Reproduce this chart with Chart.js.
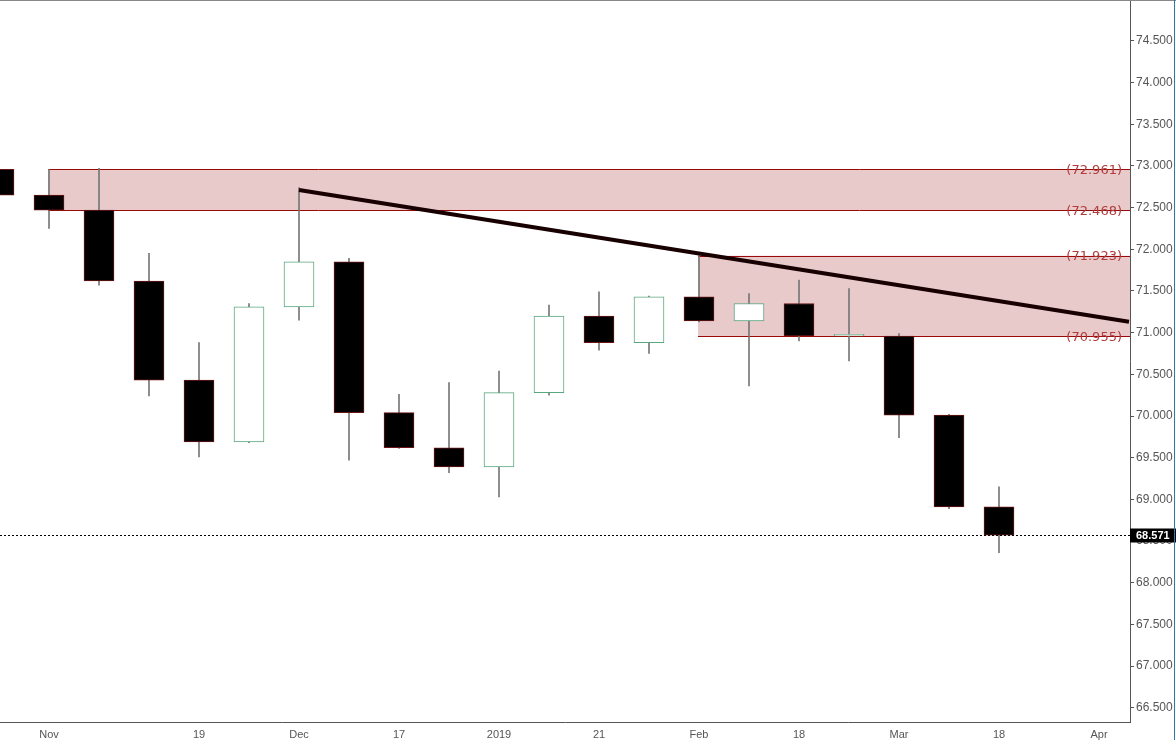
<!DOCTYPE html>
<html><head><meta charset="utf-8">
<script src="https://cdn.jsdelivr.net/npm/chart.js@4"></script>
<style>html,body{margin:0;padding:0;background:#fff}#wrap{width:1176px;height:740px;position:relative}</style>
</head><body><div id="wrap"><canvas id="c" width="1176" height="740"></canvas></div>
<script>
const weeks = [0,1,2,3,4,5,6,7,8,9,10,11,12,13,14,15,16,17,18,19,20];
const opens  = [72.96,72.65,72.47,71.62,70.43,69.69,71.31,71.85,70.04,69.62,69.39,70.28,71.20,70.88,71.43,71.14,71.35,70.96,70.96,70.01,68.91];
const highs  = [72.98,72.96,72.97,71.95,70.88,71.35,72.74,71.89,70.26,70.40,70.54,71.33,71.49,71.44,71.93,71.47,71.63,71.53,70.99,70.02,69.15];
const lows   = [72.64,72.25,71.57,70.24,69.51,69.68,71.15,69.47,69.61,69.32,69.03,70.25,70.79,70.75,71.13,70.36,70.90,70.66,69.74,68.89,68.36];
const closes = [72.65,72.47,71.62,70.43,69.69,71.31,71.85,70.04,69.62,69.39,70.28,71.20,70.88,71.43,71.14,71.35,70.96,70.97,70.01,68.91,68.57];
const tickPos = [1,4,6,8,10,12,14,16,18,20,22];
const tickLabels = ['Nov','19','Dec','17','2019','21','Feb','18','Mar','18','Apr'];
const zones = [{from:0.98,top:72.961,bottom:72.468},{from:13.98,top:71.923,bottom:70.955}];
const trendX = [6,22.6], trendY = [72.71,71.13];
const lastPrice = 68.571;
const XMIN=0.02, XMAX=22.62;

const up = closes.map((c,i)=>c>=opens[i]);
const wickData = weeks.map((w,i)=>({x:w,y:[lows[i],highs[i]]}));
const bodyData = weeks.map((w,i)=>({x:w,y:[Math.min(opens[i],closes[i]),Math.max(opens[i],closes[i])+ (Math.abs(opens[i]-closes[i])<0.02?0.01:0)]}));
const FONT='"Liberation Sans", Arial, sans-serif';

const overlay = {
  id:'overlay',
  beforeDatasetsDraw(ch){
    const {ctx,chartArea:a,scales:{x,y}}=ch;
    ctx.save();
    zones.forEach(z=>{
      const x0=x.getPixelForValue(z.from), y0=y.getPixelForValue(z.top), y1=y.getPixelForValue(z.bottom);
      ctx.fillStyle='#e8cacb'; ctx.fillRect(x0,y0,a.right-x0,y1-y0);
      ctx.strokeStyle='#9b0a0a'; ctx.lineWidth=1;
      [y0,y1].forEach(yy=>{ctx.beginPath();ctx.moveTo(x0,Math.round(yy)+0.5);ctx.lineTo(a.right,Math.round(yy)+0.5);ctx.stroke();});
    });
    ctx.restore();
  },
  afterDatasetsDraw(ch){
    const {ctx,chartArea:a,scales:{x,y}}=ch;
    ctx.save();
    ctx.font='13px "DejaVu Sans", sans-serif'; ctx.fillStyle='#b03c3c'; ctx.textAlign='right'; ctx.textBaseline='middle';
    zones.forEach(z=>{[z.top,z.bottom].forEach(v=>ctx.fillText('('+v.toFixed(3)+')',a.right-8,y.getPixelForValue(v)+1));});
    const py=Math.round(y.getPixelForValue(lastPrice))+0.5;
    ctx.strokeStyle='#000'; ctx.lineWidth=1; ctx.setLineDash([2,2]);
    ctx.beginPath(); ctx.moveTo(a.left,py); ctx.lineTo(a.right,py); ctx.stroke(); ctx.setLineDash([]);
    ctx.fillStyle='#000'; ctx.fillRect(a.right,py-7,46,14);
    ctx.fillStyle='#fff'; ctx.font='bold 11px '+FONT; ctx.textAlign='left';
    ctx.fillText(lastPrice.toFixed(3),a.right+6,py+0.5);
    ctx.strokeStyle='#888'; ctx.beginPath(); ctx.moveTo(0,0.5); ctx.lineTo(1176,0.5); ctx.stroke();
    ctx.strokeStyle='#2a7ab0'; ctx.beginPath(); ctx.moveTo(1174.5,0); ctx.lineTo(1174.5,740); ctx.stroke();
    ctx.restore();
  }
};

new Chart(document.getElementById('c'),{
  type:'bar',
  data:{datasets:[
    {data:wickData,backgroundColor:'#777',borderWidth:0,barThickness:1,grouped:false,order:3},
    {data:bodyData,backgroundColor:up.map(u=>u?'#fff':'#000'),borderColor:up.map(u=>u?'#5aa77f':'#6b1414'),borderWidth:1,borderSkipped:false,barThickness:30,grouped:false,order:2},
    {type:'line',data:trendX.map((v,i)=>({x:v,y:trendY[i]})),borderColor:'#180000',borderWidth:4,pointRadius:0,order:1}
  ]},
  options:{
    responsive:false,animation:false,devicePixelRatio:1,
    layout:{padding:0},
    plugins:{legend:{display:false},tooltip:{enabled:false}},
    scales:{
      x:{type:'linear',offset:false,min:XMIN,max:XMAX,grid:{display:false,offset:false},border:{color:'#555'},
        afterBuildTicks(s){s.ticks=tickPos.map(v=>({value:v}));},
        afterFit(s){s.height=18;},
        ticks:{autoSkip:false,maxRotation:0,color:'#555',font:{size:11,family:FONT,lineHeight:1},padding:-1,callback:(v)=>tickLabels[tickPos.indexOf(v)]}},
      y:{position:'right',min:66.33,max:74.99,grid:{display:true,drawOnChartArea:false,drawTicks:true,tickLength:4,color:'#555'},border:{color:'#555'},
        afterBuildTicks(s){const t=[];for(let v=66.5;v<=74.5+1e-9;v+=0.5)t.push({value:v});s.ticks=t;},
        afterFit(s){s.width=46;s.paddingTop=0;s.paddingBottom=0;},
        ticks:{color:'#555',font:{size:12,family:FONT,lineHeight:0.1},padding:2,callback:v=>v.toFixed(3)}}
    }
  },
  plugins:[overlay]
});
</script></body></html>
